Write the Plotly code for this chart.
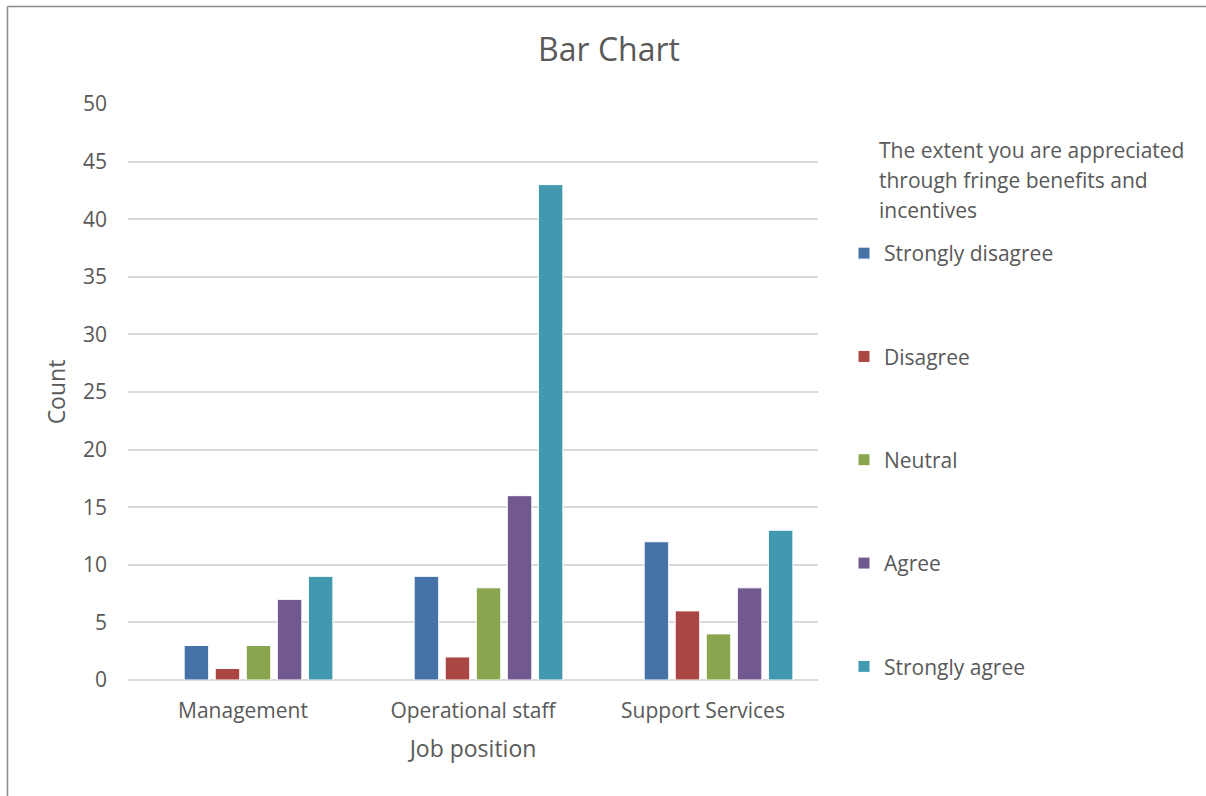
import plotly.graph_objects as go

categories = ["Management", "Operational staff", "Support Services"]
series_names = ["Strongly disagree", "Disagree", "Neutral", "Agree", "Strongly agree"]
strongly_disagree = [3, 9, 12]
disagree = [1, 2, 6]
neutral = [3, 8, 4]
agree = [7, 16, 8]
strongly_agree = [9, 43, 13]
empty_slot = [None, None, None]  # unused (blank) response category in the source chart
colors = ["#4572A7", "#AA4643", "#89A54E", "#71588F", "#4198AF"]
y_ticks = [0, 5, 10, 15, 20, 25, 30, 35, 40, 45, 50]
legend_title_lines = ["The extent you are appreciated", "through fringe benefits and", "incentives"]

W, H = 1206, 796
L, R, T, B = 128, 388, 104, 116
pw, ph = W - L - R, H - T - B

def px_x(x):
    return (x - L) / pw

def px_y(y):
    return (H - B - y) / ph

FONT = "Open Sans"
GREY = "#595959"

fig = go.Figure()
fig.add_trace(go.Bar(x=categories, y=empty_slot, name="", showlegend=False,
                     hoverinfo="skip", marker=dict(color="rgba(0,0,0,0)")))
for name, vals, col in zip(series_names,
                           [strongly_disagree, disagree, neutral, agree, strongly_agree],
                           colors):
    fig.add_trace(go.Bar(
        x=categories, y=vals, name=name,
        marker=dict(color=col, line=dict(color="white", width=1)),
        legendgroup=name,
    ))

annotations = []
for i, line in enumerate(legend_title_lines):
    annotations.append(dict(
        text=line, xref="paper", yref="paper", x=px_x(877), xanchor="left",
        y=px_y(150 + 30 * i), yanchor="middle", showarrow=False,
        font=dict(size=21, color=GREY, family=FONT), align="left",
    ))

fig.update_layout(
    width=W, height=H,
    margin=dict(l=L, r=R, t=T, b=B, autoexpand=False),
    paper_bgcolor="white", plot_bgcolor="white",
    barmode="group", bargap=0.19, bargroupgap=0.21,
    font=dict(family=FONT, color=GREY, size=21),
    title=dict(text="Bar Chart", x=0.505, xanchor="center", y=1 - 50 / H, yanchor="middle",
               font=dict(size=32, color=GREY, family=FONT)),
    xaxis=dict(
        title=dict(text="Job position", font=dict(size=23, color=GREY), standoff=17),
        showgrid=False, showline=False, ticks="", ticklabelstandoff=16,
        tickfont=dict(size=21, color=GREY), range=[-0.5, 2.5],
    ),
    yaxis=dict(
        title=dict(text="Count", font=dict(size=23, color=GREY), standoff=10),
        range=[0, 50], tickvals=y_ticks, showgrid=True, gridcolor="#d9d9d9", gridwidth=1.5,
        zeroline=True, zerolinecolor="#d9d9d9", zerolinewidth=1.5,
        showline=False, ticks="", ticklabelstandoff=20,
        tickfont=dict(size=21, color=GREY),
    ),
    legend=dict(
        x=px_x(844), xanchor="left", y=px_y(233), yanchor="top",
        traceorder="grouped", tracegroupgap=73,
        font=dict(size=21, color=GREY), itemwidth=30,
        bgcolor="rgba(0,0,0,0)",
    ),
    annotations=annotations,
    shapes=[
        dict(type="line", xref="paper", yref="paper",
             x0=px_x(7.5), x1=px_x(W), y0=px_y(6.5), y1=px_y(6.5),
             line=dict(color="#8c8c8c", width=1.5)),
        dict(type="line", xref="paper", yref="paper",
             x0=px_x(7.5), x1=px_x(7.5), y0=px_y(6.5), y1=px_y(H),
             line=dict(color="#8c8c8c", width=1.5)),
    ],
)

fig.write_html("out.html")
